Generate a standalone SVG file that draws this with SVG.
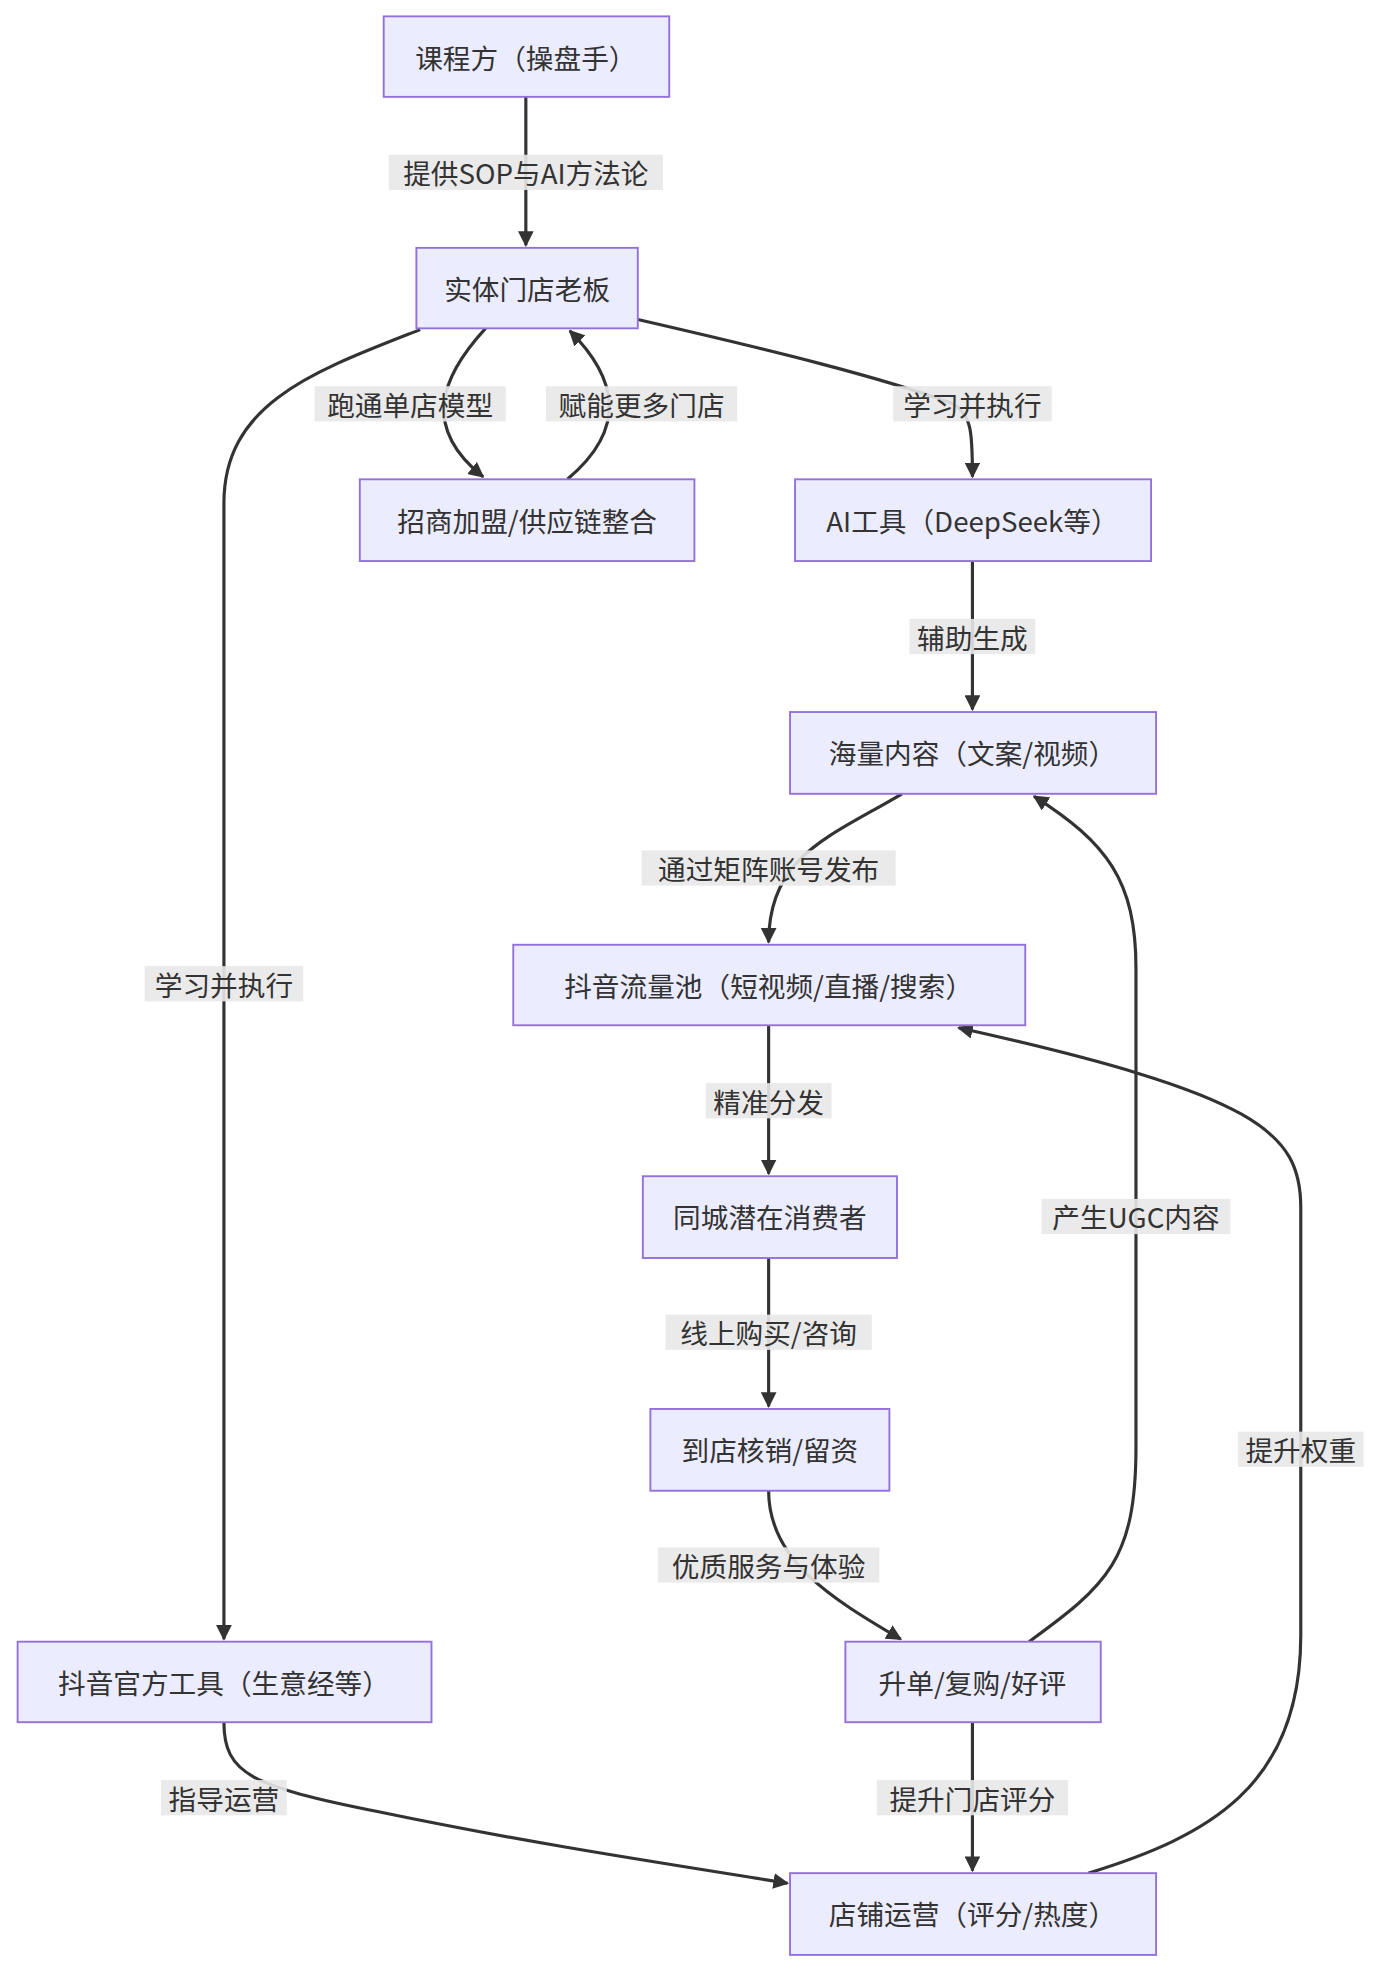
<svg xmlns="http://www.w3.org/2000/svg" width="1384" height="1974" viewBox="0 0 1384 1974">
<defs>
<marker id="a" viewBox="0 0 10 10" refX="9" refY="5" markerWidth="5" markerHeight="5" orient="auto-start-reverse"><path d="M0,0 L10,5 L0,10 z" fill="#333"/></marker>
<style>
.n rect{fill:#ECECFF;stroke:#9370DB;stroke-width:1.5}
text{font-family:"Noto Sans CJK SC","Noto Sans",sans-serif;font-size:22px;fill:#333;text-anchor:middle;dominant-baseline:central}
.e path{fill:none;stroke:#333;stroke-width:2.5;marker-end:url(#a)}
.l rect{fill:#e8e8e8;opacity:0.9}
</style>
</defs>
<rect width="1384" height="1974" fill="#fff"/>
<g transform="scale(1.258)">
<g class="e">
<path d="M418,77 L418,195"/>
<path d="M386,261 C350,300 335,340 384,379"/>
<path d="M451,381 C500,340 490,300 453,263"/>
<path d="M507,254 C620,280 700,300 755,320 C773,328 773,345 773,379"/>
<path d="M334,262 C250,295 178,320 178,400 L178,1303"/>
<path d="M773,446 L773,564"/>
<path d="M717,631 C660,665 611,680 611,749"/>
<path d="M611,815 L611,933"/>
<path d="M611,1000 L611,1118"/>
<path d="M611,1185 C611,1240 660,1270 716,1303"/>
<path d="M818,1305 C880,1260 903,1240 903,1150 L903,770 C903,700 880,670 822,633"/>
<path d="M773,1369 L773,1487"/>
<path d="M178,1369 C178,1410 200,1420 300,1440 C420,1465 520,1480 626,1497"/>
<path d="M865,1489 C960,1460 1034,1420 1034,1300 L1034,960 C1034,900 1000,870 762,817"/>
</g>
<g class="l">
<rect x="309" y="123" width="218" height="28"/><text x="418" y="137">提供SOP与AI方法论</text>
<rect x="250" y="307" width="152" height="28"/><text x="326" y="321">跑通单店模型</text>
<rect x="434" y="307" width="152" height="28"/><text x="510" y="321">赋能更多门店</text>
<rect x="710" y="307" width="126" height="28"/><text x="773" y="321">学习并执行</text>
<rect x="115" y="768" width="126" height="28"/><text x="178" y="782">学习并执行</text>
<rect x="723" y="492" width="100" height="28"/><text x="773" y="506">辅助生成</text>
<rect x="510" y="676" width="202" height="28"/><text x="611" y="690">通过矩阵账号发布</text>
<rect x="561" y="861" width="100" height="28"/><text x="611" y="875">精准分发</text>
<rect x="529" y="1045" width="164" height="28"/><text x="611" y="1059">线上购买/咨询</text>
<rect x="523" y="1230" width="176" height="28"/><text x="611" y="1244">优质服务与体验</text>
<rect x="828" y="953" width="150" height="28"/><text x="903" y="967">产生UGC内容</text>
<rect x="697" y="1415" width="152" height="28"/><text x="773" y="1429">提升门店评分</text>
<rect x="128" y="1415" width="100" height="28"/><text x="178" y="1429">指导运营</text>
<rect x="984" y="1138" width="100" height="28"/><text x="1034" y="1152">提升权重</text>
</g>
<g id="n1" class="n"><rect x="305" y="13" width="227" height="64"/><text x="418" y="45">课程方（操盘手）</text></g>
<g id="n2" class="n"><rect x="331" y="197" width="176" height="64"/><text x="419" y="229">实体门店老板</text></g>
<g id="n3" class="n"><rect x="286" y="381" width="266" height="65"/><text x="419" y="413">招商加盟/供应链整合</text></g>
<g id="n4" class="n"><rect x="632" y="381" width="283" height="65"/><text x="773" y="413">AI工具（DeepSeek等）</text></g>
<g id="n5" class="n"><rect x="628" y="566" width="291" height="65"/><text x="773" y="598">海量内容（文案/视频）</text></g>
<g id="n6" class="n"><rect x="408" y="751" width="407" height="64"/><text x="611" y="783">抖音流量池（短视频/直播/搜索）</text></g>
<g id="n7" class="n"><rect x="511" y="935" width="202" height="65"/><text x="612" y="967">同城潜在消费者</text></g>
<g id="n8" class="n"><rect x="517" y="1120" width="190" height="65"/><text x="612" y="1152">到店核销/留资</text></g>
<g id="n9" class="n"><rect x="672" y="1305" width="203" height="64"/><text x="773" y="1337">升单/复购/好评</text></g>
<g id="n10" class="n"><rect x="14" y="1305" width="329" height="64"/><text x="178" y="1337">抖音官方工具（生意经等）</text></g>
<g id="n11" class="n"><rect x="628" y="1489" width="291" height="65"/><text x="773" y="1521">店铺运营（评分/热度）</text></g>
</g>
</svg>
